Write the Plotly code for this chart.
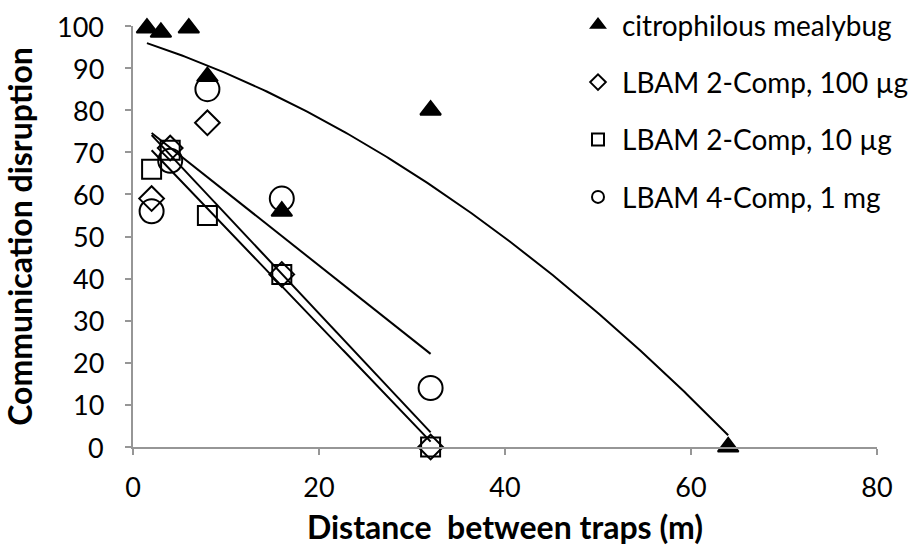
import numpy as np
import plotly.graph_objects as go

# Distances between traps (m) and communication disruption (%)
mealybug_x = [1.5, 3, 6, 8, 16, 32, 64]
mealybug_y = [99.5, 98.5, 99.5, 88, 56, 80, 0]

lbam100_x = [2, 4, 8, 16, 32]
lbam100_y = [59, 71, 77, 41, 0]

lbam10_x = [2, 4, 8, 16, 32]
lbam10_y = [66, 70.5, 55, 41, 0]

lbam1mg_x = [2, 4, 8, 16, 32]
lbam1mg_y = [56, 68, 85, 59, 14]

x_ticks = [0, 20, 40, 60, 80]
y_ticks = list(range(0, 101, 10))

FONT = "Lato"
fig = go.Figure()


def trend(xs, ys, deg):
    coef = np.polyfit(xs, ys, deg)
    xx = np.linspace(min(xs), max(xs), 200)
    return xx, np.polyval(coef, xx)


# trendlines (polynomial for mealybug, linear for LBAM series)
for xs, ys, deg in [(mealybug_x, mealybug_y, 2), (lbam100_x, lbam100_y, 1),
                    (lbam10_x, lbam10_y, 1), (lbam1mg_x, lbam1mg_y, 1)]:
    tx, ty = trend(xs, ys, deg)
    fig.add_trace(go.Scatter(x=tx, y=ty, mode="lines", showlegend=False,
                             line=dict(color="black", width=2),
                             hoverinfo="skip", cliponaxis=False))

series = [
    ("citrophilous mealybug", mealybug_x, mealybug_y, "triangle-up", 18),
    ("LBAM 2-Comp, 100 µg", lbam100_x, lbam100_y, "diamond-open", 19),
    ("LBAM 2-Comp, 10 µg", lbam10_x, lbam10_y, "square-open", 19),
    ("LBAM 4-Comp, 1 mg", lbam1mg_x, lbam1mg_y, "circle-open", 24),
]
for i, (name, xs, ys, sym, size) in enumerate(series):
    fig.add_trace(go.Scatter(
        x=xs, y=ys, mode="markers", name=name, legendgroup=f"g{i}",
        marker=dict(symbol=sym, size=size, color="black",
                    line=dict(color="black", width=2)),
        cliponaxis=False))

# y tick labels set further out from the axis than plotly's default spacing
for v in y_ticks:
    fig.add_annotation(x=0, xref="paper", y=v, yref="y", text=str(v),
                       showarrow=False, xanchor="right", yanchor="middle",
                       xshift=-27, font=dict(family=FONT, size=27, color="black"))

fig.update_layout(
    width=920, height=559,
    margin=dict(l=133, r=43, t=26, b=112, autoexpand=False),
    paper_bgcolor="white", plot_bgcolor="white",
    font=dict(family=FONT, size=27, color="black"),
    legend=dict(x=574 / 920, y=1.0, xref="container", yref="container",
                xanchor="left", yanchor="top",
                font=dict(family=FONT, size=28, color="black"),
                tracegroupgap=18, itemsizing="constant", itemwidth=38,
                bgcolor="rgba(0,0,0,0)"),
    xaxis=dict(range=[0, 80], tickvals=x_ticks, showgrid=False,
               zeroline=False, showline=True, linecolor="#969696",
               linewidth=2, ticks="outside", tickcolor="#969696",
               ticklen=6, tickwidth=2, tickfont=dict(size=27),
               ticklabelstandoff=10,
               title=dict(text="<b>Distance\u00a0 between traps (m)</b>",
                          font=dict(family=FONT, size=32), standoff=14)),
    yaxis=dict(range=[0, 100], tickvals=y_ticks, showgrid=False,
               zeroline=False, showline=True, linecolor="#969696",
               linewidth=2, ticks="outside", tickcolor="#969696",
               ticklen=6, tickwidth=2, showticklabels=False,
               title=dict(text="<b>Communication disruption</b>",
                          font=dict(family=FONT, size=32), standoff=84)),
)

fig.write_html("out.html")
